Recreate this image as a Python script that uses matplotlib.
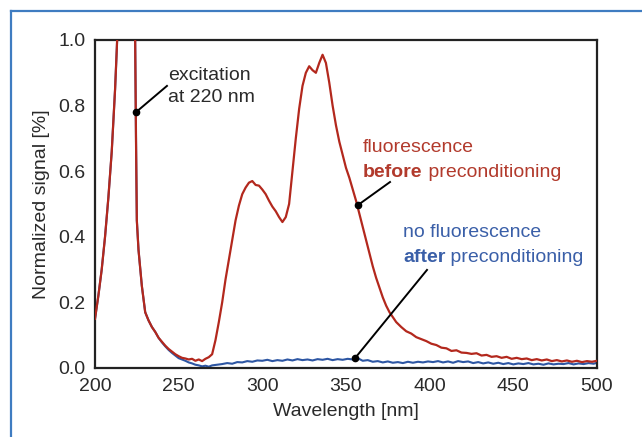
import matplotlib
matplotlib.use("Agg")
import matplotlib.pyplot as plt
from matplotlib.lines import Line2D

plt.rcParams['font.family'] = ['Liberation Sans', 'DejaVu Sans']

# ---- data ----
wl_before = [200, 202, 204, 206, 208, 210, 212, 213, 214, 216, 218, 220, 222, 223, 224, 224.5, 225, 226, 228,
             230, 232, 234, 236, 238, 240, 242, 244, 246, 248, 250, 252, 254, 256, 258, 260, 262, 264, 266,
             268, 270, 272, 274, 276, 278, 280, 282, 284, 286, 288, 290, 292, 294, 296, 298, 300, 302, 304,
             306, 308, 310, 312, 314, 316, 318, 320, 322, 324, 326, 328, 330, 332, 334, 336, 338, 340, 342,
             344, 346, 348, 350, 352, 354, 356, 358, 360, 362, 364, 366, 368, 370, 372, 374, 376, 378, 380,
             383, 386, 389, 392, 395, 398, 401, 404, 407, 410, 413, 416, 419, 422, 425, 428, 431, 434, 437,
             440, 443, 446, 449, 452, 455, 458, 461, 464, 467, 470, 473, 476, 479, 482, 485, 488, 491, 494,
             497, 500]
sig_before = [0.15, 0.22, 0.30, 0.40, 0.52, 0.66, 0.85, 0.97, 1.10, 1.40, 1.60, 1.65, 1.55, 1.30, 1.00, 0.70,
              0.45, 0.36, 0.25, 0.17, 0.145, 0.125, 0.11, 0.092, 0.08, 0.068, 0.058, 0.05, 0.042, 0.036,
              0.031, 0.029, 0.026, 0.028, 0.022, 0.026, 0.021, 0.028, 0.033, 0.042, 0.085, 0.14, 0.20, 0.27,
              0.33, 0.39, 0.45, 0.495, 0.53, 0.55, 0.565, 0.57, 0.558, 0.556, 0.544, 0.53, 0.51, 0.492, 0.478,
              0.46, 0.445, 0.46, 0.50, 0.60, 0.70, 0.79, 0.86, 0.90, 0.92, 0.908, 0.90, 0.93, 0.955, 0.93, 0.87,
              0.80, 0.74, 0.69, 0.65, 0.61, 0.58, 0.545, 0.51, 0.47, 0.43, 0.39, 0.35, 0.31, 0.275, 0.245,
              0.215, 0.19, 0.17, 0.155, 0.14, 0.125, 0.112, 0.105, 0.094, 0.088, 0.082, 0.074, 0.07, 0.062,
              0.06, 0.052, 0.054, 0.047, 0.046, 0.043, 0.045, 0.038, 0.04, 0.034, 0.036, 0.031, 0.034, 0.028,
              0.031, 0.027, 0.029, 0.024, 0.027, 0.023, 0.026, 0.021, 0.024, 0.02, 0.023, 0.019, 0.022, 0.018,
              0.021, 0.019, 0.022]

wl_after = [200, 202, 204, 206, 208, 210, 212, 213, 214, 216, 218, 220, 222, 223, 224, 224.5, 225, 226, 228,
            230, 232, 234, 236, 238, 240, 242, 244, 246, 248, 250, 252, 254, 256, 258, 260, 262, 264, 266,
            268, 270, 273, 276, 279, 282, 285, 288, 291, 294, 297, 300, 303, 306, 309, 312, 315, 318, 321,
            324, 327, 330, 333, 336, 339, 342, 345, 348, 351, 354, 357, 360, 363, 366, 369, 372, 375, 378,
            381, 384, 387, 390, 393, 396, 399, 402, 405, 408, 411, 414, 417, 420, 423, 426, 429, 432, 435,
            438, 441, 444, 447, 450, 453, 456, 459, 462, 465, 468, 471, 474, 477, 480, 483, 486, 489, 492,
            495, 498, 500]
sig_after = [0.15, 0.22, 0.30, 0.40, 0.52, 0.66, 0.85, 0.97, 1.10, 1.40, 1.60, 1.65, 1.55, 1.30, 1.00, 0.70,
             0.45, 0.36, 0.25, 0.17, 0.145, 0.125, 0.11, 0.092, 0.078, 0.066, 0.055, 0.046, 0.038, 0.03,
             0.026, 0.022, 0.017, 0.014, 0.01, 0.008, 0.005, 0.007, 0.004, 0.008, 0.01, 0.012, 0.015, 0.013,
             0.018, 0.017, 0.021, 0.019, 0.023, 0.022, 0.025, 0.021, 0.024, 0.022, 0.026, 0.023, 0.027,
             0.024, 0.026, 0.023, 0.027, 0.025, 0.028, 0.024, 0.027, 0.025, 0.028, 0.026, 0.03, 0.022, 0.024,
             0.019, 0.021, 0.017, 0.02, 0.016, 0.018, 0.015, 0.019, 0.016, 0.019, 0.017, 0.02, 0.018, 0.021,
             0.017, 0.02, 0.016, 0.021, 0.018, 0.02, 0.015, 0.018, 0.014, 0.017, 0.013, 0.016, 0.012, 0.015,
             0.011, 0.014, 0.012, 0.015, 0.011, 0.013, 0.01, 0.014, 0.011, 0.013, 0.012, 0.015, 0.011, 0.014,
             0.012, 0.015, 0.013, 0.016]

x_ticks = [200, 250, 300, 350, 400, 450, 500]
y_ticks = [0.0, 0.2, 0.4, 0.6, 0.8, 1.0]

RED = '#b3281d'
BLUE = '#2d56a3'
RED_TXT = '#b23a2c'
BLUE_TXT = '#3a5fa8'
TXT = '#2a2a2a'

fig = plt.figure(figsize=(6.42, 4.37), dpi=100)
ax = fig.add_axes([95 / 642, (437 - 368) / 437, 502 / 642, 328 / 437])

ax.plot(wl_after, sig_after, color=BLUE, lw=1.5, zorder=2)
ax.plot(wl_before, sig_before, color=RED, lw=1.6, zorder=3)

ax.set_xlim(200, 500)
ax.set_ylim(0, 1.0)
ax.set_xticks(x_ticks)
ax.set_yticks(y_ticks)
ax.set_xticklabels([str(v) for v in x_ticks])
ax.set_yticklabels([f'{v:.1f}' for v in y_ticks])
ax.tick_params(length=0, labelsize=14, colors=TXT, pad=7)
for s in ax.spines.values():
    s.set_linewidth(1.6)
    s.set_color('#222222')

ax.set_xlabel('Wavelength [nm]', fontsize=14, color=TXT, labelpad=6)
ax.set_ylabel('Normalized signal [%]', fontsize=14, color=TXT, labelpad=6)

# annotations
def pointer(x0, y0, x1, y1):
    ax.plot([x0, x1], [y0, y1], color='black', lw=1.4, zorder=5)
    ax.plot([x0], [y0], 'o', color='black', ms=4.5, zorder=6)

pointer(224.5, 0.78, 243.0, 0.86)
ax.text(243.6, 0.893, 'excitation', fontsize=14, color=TXT, va='center', ha='left')
ax.text(243.6, 0.826, 'at 220 nm', fontsize=14, color=TXT, va='center', ha='left')

pointer(357.2, 0.497, 376.3, 0.567)
ax.text(360.2, 0.671, 'fluorescence', fontsize=14, color=RED_TXT, va='center', ha='left')
t1 = ax.text(360.2, 0.595, 'before', fontsize=14, color=RED_TXT, va='center', ha='left', fontweight='bold')
ax.annotate(' preconditioning', xy=(1, 0.5), xycoords=t1, fontsize=14, color=RED_TXT,
            va='center', ha='left')

pointer(355.4, 0.03, 398.4, 0.299)
ax.text(384.1, 0.412, 'no fluorescence', fontsize=14, color=BLUE_TXT, va='center', ha='left')
t2 = ax.text(384.1, 0.338, 'after', fontsize=14, color=BLUE_TXT, va='center', ha='left', fontweight='bold')
ax.annotate(' preconditioning', xy=(1, 0.5), xycoords=t2, fontsize=14, color=BLUE_TXT,
            va='center', ha='left')

# blue frame
fc = '#3f7cc1'
fig.add_artist(Line2D([11 / 642, 11 / 642], [0, 1 - 11 / 437], transform=fig.transFigure, color=fc, lw=1.6))
fig.add_artist(Line2D([11 / 642, 1], [1 - 11 / 437, 1 - 11 / 437], transform=fig.transFigure, color=fc, lw=1.6))

fig.savefig('out.png', dpi=100)
